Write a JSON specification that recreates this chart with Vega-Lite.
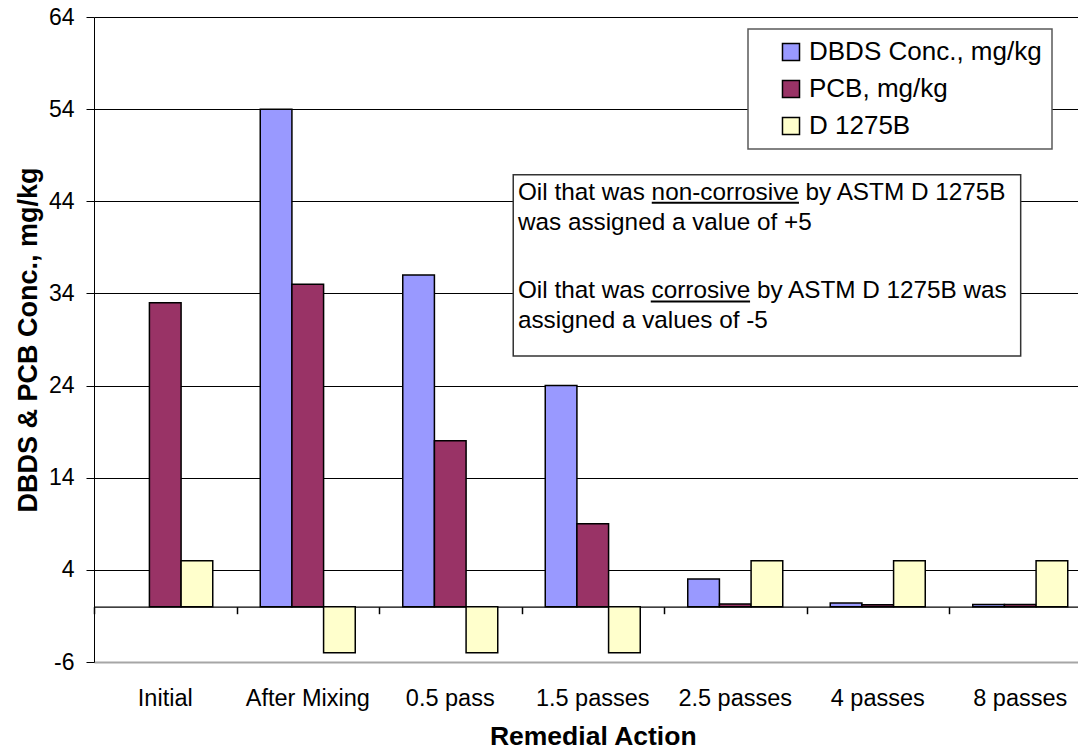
{
  "$schema": "https://vega.github.io/schema/vega-lite/v6.json",
  "width": 997.5,
  "height": 645,
  "autosize": {"type": "none"},
  "padding": {"left": 94, "top": 17, "right": -13.5, "bottom": 89},
  "background": "white",
  "config": {"font": "Liberation Sans", "view": {"stroke": null}},
  "layer": [
    {
      "data": {"values": [
        {"action": "Initial", "series": "PCB, mg/kg", "value": 33},
        {"action": "Initial", "series": "D 1275B", "value": 5},
        {"action": "After Mixing", "series": "DBDS Conc., mg/kg", "value": 54},
        {"action": "After Mixing", "series": "PCB, mg/kg", "value": 35},
        {"action": "After Mixing", "series": "D 1275B", "value": -5},
        {"action": "0.5 pass", "series": "DBDS Conc., mg/kg", "value": 36},
        {"action": "0.5 pass", "series": "PCB, mg/kg", "value": 18},
        {"action": "0.5 pass", "series": "D 1275B", "value": -5},
        {"action": "1.5 passes", "series": "DBDS Conc., mg/kg", "value": 24},
        {"action": "1.5 passes", "series": "PCB, mg/kg", "value": 9},
        {"action": "1.5 passes", "series": "D 1275B", "value": -5},
        {"action": "2.5 passes", "series": "DBDS Conc., mg/kg", "value": 3},
        {"action": "2.5 passes", "series": "PCB, mg/kg", "value": 0.3},
        {"action": "2.5 passes", "series": "D 1275B", "value": 5},
        {"action": "4 passes", "series": "DBDS Conc., mg/kg", "value": 0.4},
        {"action": "4 passes", "series": "PCB, mg/kg", "value": 0.2},
        {"action": "4 passes", "series": "D 1275B", "value": 5},
        {"action": "8 passes", "series": "DBDS Conc., mg/kg", "value": 0.25},
        {"action": "8 passes", "series": "PCB, mg/kg", "value": 0.25},
        {"action": "8 passes", "series": "D 1275B", "value": 5}
      ]},
      "mark": {"type": "bar", "stroke": "black", "strokeWidth": 1.5},
      "encoding": {
        "x": {
          "field": "action", "type": "nominal",
          "sort": ["Initial", "After Mixing", "0.5 pass", "1.5 passes", "2.5 passes", "4 passes", "8 passes"],
          "scale": {"paddingInner": 0, "paddingOuter": 0},
          "axis": {"orient": "bottom", "title": "Remedial Action", "labelAngle": 0, "labelFontSize": 23.5, "labelPadding": 24, "labelColor": "black", "ticks": false, "domain": false, "grid": false, "titleFontSize": 26.5, "titleFontWeight": "bold", "titleColor": "black", "titlePadding": 14}
        },
        "xOffset": {
          "field": "series", "type": "nominal",
          "sort": ["DBDS Conc., mg/kg", "PCB, mg/kg", "D 1275B"],
          "scale": {"domain": ["DBDS Conc., mg/kg", "PCB, mg/kg", "D 1275B"], "paddingInner": 0, "paddingOuter": 0.75}
        },
        "y": {
          "field": "value", "type": "quantitative",
          "scale": {"domain": [-6, 64], "nice": false, "zero": false},
          "axis": {
            "values": [-6, 4, 14, 24, 34, 44, 54, 64],
            "labelExpr": "'' + datum.value",
            "title": "DBDS & PCB Conc., mg/kg",
            "grid": true,
            "gridColor": {"condition": {"test": "datum.value == -6", "value": "#a6a6a6"}, "value": "black"},
            "gridWidth": {"condition": {"test": "datum.value == -6", "value": 2}, "value": 1},
            "domainColor": "black", "tickColor": "black", "tickSize": 8,
            "labelFontSize": 23, "labelPadding": 12, "labelColor": "black",
            "titleFontSize": 27, "titleFontWeight": "bold", "titleColor": "black", "titlePadding": 6
          }
        },
        "color": {
          "field": "series", "type": "nominal",
          "scale": {"domain": ["DBDS Conc., mg/kg", "PCB, mg/kg", "D 1275B"], "range": ["#9999FF", "#993366", "#FFFFCC"]},
          "legend": {
            "orient": "none", "legendX": 654, "legendY": 12, "title": null,
            "symbolType": "square", "symbolSize": 290, "symbolStrokeColor": "black", "symbolStrokeWidth": 1.5,
            "symbolOffset": 20, "labelFontSize": 26, "labelOffset": 5, "labelColor": "black", "labelLimit": 400,
            "rowPadding": 11, "padding": 10, "strokeColor": "#595959", "fillColor": "white",
            "encode": {"legend": {"update": {"strokeWidth": {"value": 1.5}}}}
          }
        }
      }
    },
    {
      "data": {"values": [{}]},
      "layer": [
        {
          "mark": {"type": "rect", "fill": "white", "stroke": "#333333", "strokeWidth": 1.5},
          "encoding": {
            "x": {"datum": 2.942, "type": "quantitative", "scale": {"domain": [0, 7], "nice": false, "zero": false},
              "axis": {"orient": "bottom", "offset": -55.3, "values": [0, 1, 2, 3, 4, 5, 6, 7], "labels": false, "ticks": true, "tickSize": 7, "tickColor": "black", "tickWidth": 1.5, "domain": true, "domainColor": "black", "domainWidth": 1.2, "grid": false, "title": null}},
            "x2": {"datum": 6.503},
            "y": {"datum": 46.87},
            "y2": {"datum": 27.22}
          }
        },
        {
          "mark": {"type": "text", "align": "left", "baseline": "alphabetic", "fontSize": 24.3, "lineHeight": 30, "color": "black"},
          "encoding": {
            "x": {"datum": 2.975, "type": "quantitative"},
            "y": {"datum": 44.16},
            "text": {"value": ["Oil that was non-corrosive by ASTM D 1275B", "was assigned a value of +5"]}
          }
        },
        {
          "mark": {"type": "text", "align": "left", "baseline": "alphabetic", "fontSize": 24.3, "lineHeight": 30, "color": "black"},
          "encoding": {
            "x": {"datum": 2.975, "type": "quantitative"},
            "y": {"datum": 33.5},
            "text": {"value": ["Oil that was corrosive by ASTM D 1275B was", "assigned a values of -5"]}
          }
        },
        {
          "mark": {"type": "rule", "color": "black", "strokeWidth": 2},
          "encoding": {
            "x": {"datum": 3.914, "type": "quantitative"},
            "x2": {"datum": 4.947},
            "y": {"datum": 43.85}
          }
        },
        {
          "mark": {"type": "rule", "color": "black", "strokeWidth": 2},
          "encoding": {
            "x": {"datum": 3.907, "type": "quantitative"},
            "x2": {"datum": 4.604},
            "y": {"datum": 33.12}
          }
        }
      ]
    }
  ],
  "resolve": {"scale": {"x": "independent"}, "axis": {"x": "independent"}}
}
